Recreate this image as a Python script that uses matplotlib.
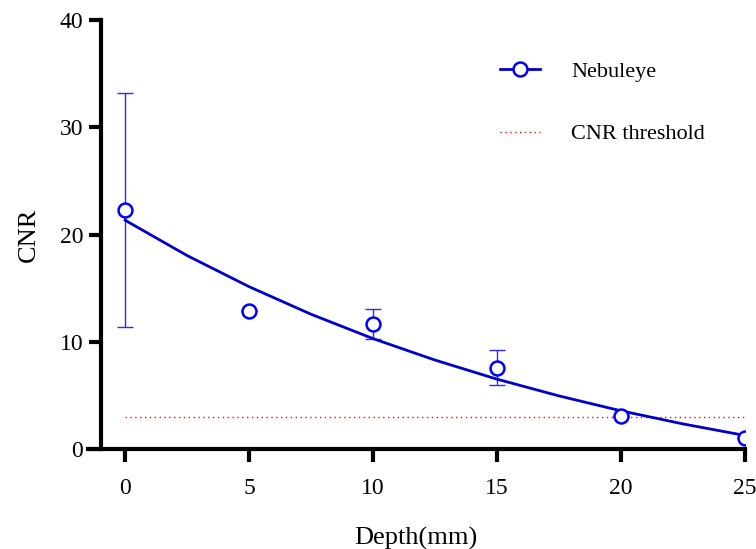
import matplotlib
matplotlib.use("Agg")
import matplotlib.pyplot as plt

plt.rcParams["font.family"] = ["Liberation Serif", "DejaVu Serif"]

# measured points
depth = [0, 5, 10, 15, 20, 25]
cnr = [22.3, 12.9, 11.7, 7.6, 3.1, 1.0]
cnr_err = [10.9, 0, 1.4, 1.65, 0, 0]

# fitted curve
fit_x = [0, 2.5, 5, 7.5, 10, 12.5, 15, 17.5, 20, 22.5, 25]
fit_y = [21.33, 18.04, 15.14, 12.57, 10.30, 8.30, 6.52, 4.96, 3.57, 2.35, 1.27]

threshold = 3.0
x_ticks = [0, 5, 10, 15, 20, 25]
y_ticks = [0, 10, 20, 30, 40]

fig = plt.figure(figsize=(7.56, 5.49), dpi=100)
ax = fig.add_axes([0.1164, 0.1821, 0.8684, 0.7814])

ax.plot([0, 25], [threshold, threshold], color="red", lw=1,
        linestyle=(0, (1, 2.5)), label="CNR threshold", zorder=2)
ax.errorbar(depth, cnr, yerr=cnr_err, fmt="none", ecolor="#2a2aff",
            elinewidth=1, capsize=6, capthick=1, zorder=3)
ax.plot(fit_x, fit_y, color="#0000cc", lw=2, zorder=4)
ax.plot(depth, cnr, linestyle="none", marker="o", ms=10, mew=1.8,
        mec="#0000ff", mfc="white", zorder=5)

# legend proxy for the data series
ax.plot([], [], color="#0000cc", lw=2, marker="o", ms=10, mew=1.8,
        mec="#0000ff", mfc="white", label="Nebuleye")

ax.set_xlim(-1.5, 25)
ax.set_ylim(0, 40)
ax.set_xticks(x_ticks)
ax.set_yticks(y_ticks)

for s in ["top", "right"]:
    ax.spines[s].set_visible(False)
ax.spines["left"].set_position(("data", -0.97))
ax.spines["left"].set_linewidth(3)
ax.spines["bottom"].set_linewidth(3)
ax.tick_params(axis="both", width=3, length=9, labelsize=17, direction="out")
ax.tick_params(axis="x", pad=12)
ax.tick_params(axis="y", pad=4)

ax.set_xlabel("Depth(mm)", fontsize=19, labelpad=20)
ax.set_ylabel("CNR", fontsize=19, labelpad=14)

handles, labels = ax.get_legend_handles_labels()
order = [labels.index("Nebuleye"), labels.index("CNR threshold")]
ax.legend([handles[i] for i in order], [labels[i] for i in order],
          loc="upper left", bbox_to_anchor=(500 / 756, 1 - 61 / 549),
          bbox_transform=fig.transFigure, frameon=False, fontsize=16,
          handlelength=1.8, handletextpad=1.4, labelspacing=1.9,
          borderpad=0, borderaxespad=0)

fig.savefig("out.png", dpi=100)
